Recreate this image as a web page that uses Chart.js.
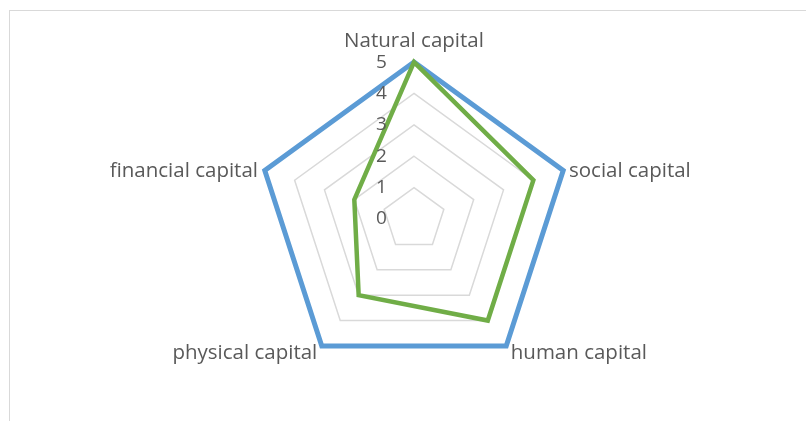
<!DOCTYPE html>
<html>
<head>
<meta charset="utf-8">
<script src="https://cdn.jsdelivr.net/npm/chart.js@4/dist/chart.umd.min.js"></script>
<style>
  html, body { margin: 0; padding: 0; background: #fff; }
  #frame { position: absolute; left: 9px; top: 10px; width: 820px; height: 430px;
           border-top: 1px solid #d9d9d9; border-left: 1px solid #d9d9d9; }
  #wrap { position: absolute; left: 0; top: 0; width: 806px; height: 421px; }
</style>
</head>
<body>
<div id="frame"></div>
<div id="wrap"><canvas id="c" width="806" height="421"></canvas></div>
<script>
const categories = ["Natural capital", "social capital", "human capital", "physical capital", "financial capital"];
const seriesMax = [5, 5, 5, 5, 5];
const seriesActual = [5, 4, 4, 3, 2];
const tickValues = [0, 1, 2, 3, 4, 5];

// label nudges (layout only): [dx, dy] per category label
const labelNudge = [[0, 6], [-8, 17], [-4, -17], [4, -17], [7, 17]];

const FONT = "'Open Sans', sans-serif";

new Chart(document.getElementById('c'), {
  type: 'radar',
  data: {
    labels: categories,
    datasets: [
      { label: 'Max', data: seriesMax, borderColor: '#5B9BD5', borderWidth: 5,
        backgroundColor: 'rgba(0,0,0,0)', pointRadius: 0, borderJoinStyle: 'miter', order: 1, fill: false },
      { label: 'Actual', data: seriesActual, borderColor: '#70AD47', borderWidth: 4.5,
        backgroundColor: 'rgba(0,0,0,0)', pointRadius: 0, borderJoinStyle: 'miter', order: 0, fill: false }
    ]
  },
  options: {
    responsive: false,
    animation: false,
    layout: { padding: { top: 10, bottom: 19, left: 23, right: 0 } },
    plugins: { legend: { display: false }, tooltip: { enabled: false } },
    scales: {
      r: {
        min: tickValues[0],
        max: tickValues[tickValues.length - 1],
        afterBuildTicks: (s) => {
          s.ticks = tickValues.map(v => ({ value: v }));
          s.ticks.unshift({ value: tickValues[0] });
        },
        afterFit: (s) => {
          (s._pointLabelItems || []).forEach((it, i) => {
            const [dx, dy] = labelNudge[i] || [0, 0];
            it.x += dx; it.left += dx; it.right += dx;
            it.y += dy; it.top += dy; it.bottom += dy;
          });
        },
        angleLines: { display: false },
        grid: { color: '#D9D9D9', lineWidth: 1.5 },
        ticks: {
          stepSize: 1,
          color: '#595959',
          font: { family: FONT, size: 19 },
          showLabelBackdrop: false,
          z: 1,
          callback: (v) => String(Math.round(v)) + '\u2007\u2007\u2007\u2007\u2007\u2007'
        },
        pointLabels: {
          color: '#595959',
          font: { family: FONT, size: 20.5 },
          padding: 3
        }
      }
    }
  }
});
</script>
</body>
</html>
